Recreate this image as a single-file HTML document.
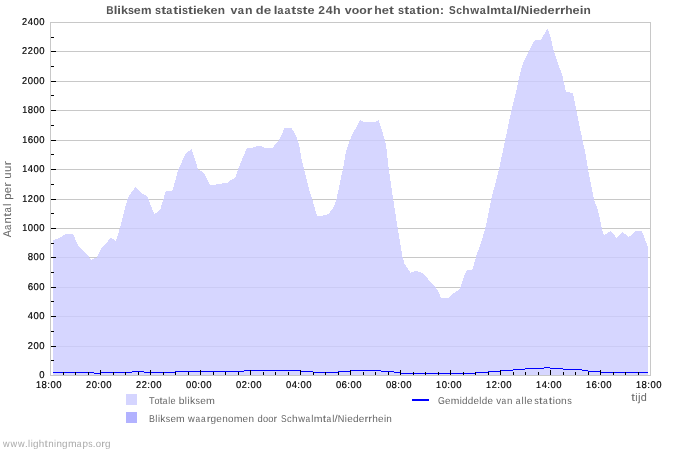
<!DOCTYPE html><html><head><meta charset="utf-8"><style>html,body{margin:0;padding:0;background:#fff;width:700px;height:450px;overflow:hidden}svg{display:block;will-change:transform}text{font-family:"Liberation Sans", sans-serif;text-rendering:geometricPrecision}</style></head><body>
<svg width="700" height="450" viewBox="0 0 700 450">
<path d="M50 22.5H651M50 51.5H651M50 81.5H651M50 110.5H651M50 140.5H651M50 169.5H651M50 199.5H651M50 228.5H651M50 257.5H651M50 287.5H651M50 316.5H651M50 346.5H651M50 375.5H651M50.5 22V376M650.5 22V376" stroke="#c8c8c8" stroke-width="1" fill="none" shape-rendering="crispEdges"/>
<path d="M53 375 L53 240.5 L57.8 238.5 L66.3 234 L72.9 234 L78.8 246.7 L81.1 248.6 L88.1 255.6 L91.2 259.9 L93.5 258.7 L96.7 257.5 L102.1 247.1 L106.4 242.9 L110.7 237.9 L115.7 240.7 L117.1 237.9 L120.7 225 L127.7 198 L129.7 194.7 L135.3 187.1 L142.3 193.7 L147.7 196.7 L150.3 204 L154.4 214.3 L160.3 209.3 L165.7 191.3 L167 190.7 L172.3 190.7 L173.7 186.7 L178 170 L180.7 164.7 L184 156.7 L186.7 152.7 L191.6 149.3 L194 156 L198 169.3 L201.3 171.3 L204.7 174.7 L210 184.7 L215.3 184.7 L217.3 184 L222 184 L222.7 183 L228 183 L230 180.7 L235.3 178 L239.3 166 L242.7 158 L246.7 148.4 L252.7 148 L254 146.7 L258 146.3 L260 145.3 L264.7 148 L272.7 148 L275.3 144.4 L278.7 140.7 L284.7 128 L291.3 128 L294.7 133.3 L298 140.7 L299.3 146 L301.3 158 L305 173.3 L309.2 190 L312.5 200 L315.8 211.7 L317 215.8 L321.7 215.8 L328.3 214.2 L333.3 207.5 L335.8 201.7 L339.2 186.7 L343.3 166.7 L346 151.7 L348.7 143 L352 135 L356 127.7 L360 120.3 L364 121.7 L375.3 121.7 L378.7 120.3 L380.7 126.3 L383.3 135 L386 145 L387.3 155.7 L388.9 170 L393.3 200 L397.8 228.9 L402.3 256 L404.3 263.3 L407.7 268.7 L410.3 272.7 L416.3 270.8 L422.3 273.1 L427.7 278.7 L433.7 285.3 L437.7 290 L441 298 L448.3 298 L452.3 294 L459.7 289.3 L461.7 283.3 L465.5 272.5 L466.5 270.5 L472 270 L473.5 266 L476.5 255 L480.8 243.3 L485 229.2 L487.5 218.3 L491.3 198.9 L499.1 168.9 L504.7 142.2 L511.5 110 L516 92 L519 78 L522 66 L525 59 L529.5 50 L534.5 40.5 L541 40 L547 29 L548 29.5 L551 39 L554 52 L558.5 65 L562 74 L566 92 L573 93 L576 108 L579.3 124.9 L582.4 139.7 L585.6 154.4 L587.9 168.4 L594 200 L598 210 L600.7 223.3 L603.3 234 L604.7 235 L610.7 231 L616.7 238 L622.7 232 L628.7 237 L636 231 L641.3 230.7 L643.3 234 L646 242 L648 247.3 L648 375Z" fill="rgb(204,204,255)" fill-opacity="0.8" shape-rendering="crispEdges"/>
<path d="M53 372.5H94M94 373.5H100M100 372.5H132M132 371.5H144M144 372.5H175M175 371.5H244M244 370.5H300M300 371.5H313M313 372.5H338M338 371.5H350M350 370.5H381M381 371.5H394M394 372.5H400M400 373.5H475M475 372.5H488M488 371.5H500M500 370.5H513M513 369.5H525M525 368.5H544M544 367.5H550M550 368.5H563M563 369.5H582M582 370.5H588M588 371.5H600M600 372.5H648" stroke="#0000ff" stroke-width="1" fill="none" shape-rendering="crispEdges"/>
<path d="M51 51.5H56M51 81.5H56M51 110.5H56M51 140.5H56M51 169.5H56M51 199.5H56M51 228.5H56M51 257.5H56M51 287.5H56M51 316.5H56M51 346.5H56M51 37.5H54M51 66.5H54M51 95.5H54M51 125.5H54M51 154.5H54M51 184.5H54M51 213.5H54M51 243.5H54M51 272.5H54M51 301.5H54M51 331.5H54M51 360.5H54M63.5 372V375M75.5 372V375M88.5 372V375M100.5 370V375M113.5 372V375M125.5 372V375M138.5 372V375M150.5 370V375M163.5 372V375M175.5 372V375M188.5 372V375M200.5 370V375M213.5 372V375M225.5 372V375M238.5 372V375M250.5 370V375M263.5 372V375M275.5 372V375M288.5 372V375M300.5 370V375M313.5 372V375M325.5 372V375M338.5 372V375M350.5 370V375M363.5 372V375M375.5 372V375M388.5 372V375M400.5 370V375M413.5 372V375M425.5 372V375M438.5 372V375M450.5 370V375M463.5 372V375M475.5 372V375M488.5 372V375M500.5 370V375M513.5 372V375M525.5 372V375M538.5 372V375M550.5 370V375M563.5 372V375M575.5 372V375M588.5 372V375M600.5 370V375M613.5 372V375M625.5 372V375M638.5 372V375" stroke="#000" stroke-width="1" fill="none" shape-rendering="crispEdges"/>
<g font-size="9.9" fill="#000" stroke="#000" stroke-width="0.18">
<text x="22.1" y="25" textLength="5.09" lengthAdjust="spacingAndGlyphs">2</text>
<text x="27.84" y="25" textLength="5.28" lengthAdjust="spacingAndGlyphs">4</text>
<text x="33.57" y="25" textLength="5.28" lengthAdjust="spacingAndGlyphs">0</text>
<text x="39.3" y="25" textLength="5.28" lengthAdjust="spacingAndGlyphs">0</text>
<text x="22.1" y="54" textLength="5.09" lengthAdjust="spacingAndGlyphs">2</text>
<text x="27.82" y="54" textLength="5.09" lengthAdjust="spacingAndGlyphs">2</text>
<text x="33.57" y="54" textLength="5.28" lengthAdjust="spacingAndGlyphs">0</text>
<text x="39.3" y="54" textLength="5.28" lengthAdjust="spacingAndGlyphs">0</text>
<text x="22.1" y="84" textLength="5.09" lengthAdjust="spacingAndGlyphs">2</text>
<text x="27.84" y="84" textLength="5.28" lengthAdjust="spacingAndGlyphs">0</text>
<text x="33.57" y="84" textLength="5.28" lengthAdjust="spacingAndGlyphs">0</text>
<text x="39.3" y="84" textLength="5.28" lengthAdjust="spacingAndGlyphs">0</text>
<text x="22.19" y="113" textLength="5.04" lengthAdjust="spacingAndGlyphs">1</text>
<text x="27.82" y="113" textLength="5.33" lengthAdjust="spacingAndGlyphs">8</text>
<text x="33.57" y="113" textLength="5.28" lengthAdjust="spacingAndGlyphs">0</text>
<text x="39.3" y="113" textLength="5.28" lengthAdjust="spacingAndGlyphs">0</text>
<text x="22.19" y="143" textLength="5.04" lengthAdjust="spacingAndGlyphs">1</text>
<text x="27.75" y="143" textLength="5.46" lengthAdjust="spacingAndGlyphs">6</text>
<text x="33.57" y="143" textLength="5.28" lengthAdjust="spacingAndGlyphs">0</text>
<text x="39.3" y="143" textLength="5.28" lengthAdjust="spacingAndGlyphs">0</text>
<text x="22.19" y="172" textLength="5.04" lengthAdjust="spacingAndGlyphs">1</text>
<text x="27.84" y="172" textLength="5.28" lengthAdjust="spacingAndGlyphs">4</text>
<text x="33.57" y="172" textLength="5.28" lengthAdjust="spacingAndGlyphs">0</text>
<text x="39.3" y="172" textLength="5.28" lengthAdjust="spacingAndGlyphs">0</text>
<text x="22.19" y="202" textLength="5.04" lengthAdjust="spacingAndGlyphs">1</text>
<text x="27.82" y="202" textLength="5.09" lengthAdjust="spacingAndGlyphs">2</text>
<text x="33.57" y="202" textLength="5.28" lengthAdjust="spacingAndGlyphs">0</text>
<text x="39.3" y="202" textLength="5.28" lengthAdjust="spacingAndGlyphs">0</text>
<text x="22.19" y="231" textLength="5.04" lengthAdjust="spacingAndGlyphs">1</text>
<text x="27.84" y="231" textLength="5.28" lengthAdjust="spacingAndGlyphs">0</text>
<text x="33.57" y="231" textLength="5.28" lengthAdjust="spacingAndGlyphs">0</text>
<text x="39.3" y="231" textLength="5.28" lengthAdjust="spacingAndGlyphs">0</text>
<text x="27.82" y="260" textLength="5.33" lengthAdjust="spacingAndGlyphs">8</text>
<text x="33.57" y="260" textLength="5.28" lengthAdjust="spacingAndGlyphs">0</text>
<text x="39.3" y="260" textLength="5.28" lengthAdjust="spacingAndGlyphs">0</text>
<text x="27.75" y="290" textLength="5.46" lengthAdjust="spacingAndGlyphs">6</text>
<text x="33.57" y="290" textLength="5.28" lengthAdjust="spacingAndGlyphs">0</text>
<text x="39.3" y="290" textLength="5.28" lengthAdjust="spacingAndGlyphs">0</text>
<text x="27.84" y="319" textLength="5.28" lengthAdjust="spacingAndGlyphs">4</text>
<text x="33.57" y="319" textLength="5.28" lengthAdjust="spacingAndGlyphs">0</text>
<text x="39.3" y="319" textLength="5.28" lengthAdjust="spacingAndGlyphs">0</text>
<text x="27.82" y="349" textLength="5.09" lengthAdjust="spacingAndGlyphs">2</text>
<text x="33.57" y="349" textLength="5.28" lengthAdjust="spacingAndGlyphs">0</text>
<text x="39.3" y="349" textLength="5.28" lengthAdjust="spacingAndGlyphs">0</text>
<text x="39.3" y="378" textLength="5.28" lengthAdjust="spacingAndGlyphs">0</text>
<text x="36" y="388" textLength="5.04" lengthAdjust="spacingAndGlyphs">1</text>
<text x="41.62" y="388" textLength="5.33" lengthAdjust="spacingAndGlyphs">8</text>
<text x="47.32" y="388" textLength="2.71" lengthAdjust="spacingAndGlyphs">:</text>
<text x="50.41" y="388" textLength="5.28" lengthAdjust="spacingAndGlyphs">0</text>
<text x="56.13" y="388" textLength="5.28" lengthAdjust="spacingAndGlyphs">0</text>
<text x="85.9" y="388" textLength="5.09" lengthAdjust="spacingAndGlyphs">2</text>
<text x="91.65" y="388" textLength="5.28" lengthAdjust="spacingAndGlyphs">0</text>
<text x="97.32" y="388" textLength="2.71" lengthAdjust="spacingAndGlyphs">:</text>
<text x="100.41" y="388" textLength="5.28" lengthAdjust="spacingAndGlyphs">0</text>
<text x="106.13" y="388" textLength="5.28" lengthAdjust="spacingAndGlyphs">0</text>
<text x="135.9" y="388" textLength="5.09" lengthAdjust="spacingAndGlyphs">2</text>
<text x="141.63" y="388" textLength="5.09" lengthAdjust="spacingAndGlyphs">2</text>
<text x="147.32" y="388" textLength="2.71" lengthAdjust="spacingAndGlyphs">:</text>
<text x="150.41" y="388" textLength="5.28" lengthAdjust="spacingAndGlyphs">0</text>
<text x="156.13" y="388" textLength="5.28" lengthAdjust="spacingAndGlyphs">0</text>
<text x="185.92" y="388" textLength="5.28" lengthAdjust="spacingAndGlyphs">0</text>
<text x="191.65" y="388" textLength="5.28" lengthAdjust="spacingAndGlyphs">0</text>
<text x="197.32" y="388" textLength="2.71" lengthAdjust="spacingAndGlyphs">:</text>
<text x="200.41" y="388" textLength="5.28" lengthAdjust="spacingAndGlyphs">0</text>
<text x="206.13" y="388" textLength="5.28" lengthAdjust="spacingAndGlyphs">0</text>
<text x="235.92" y="388" textLength="5.28" lengthAdjust="spacingAndGlyphs">0</text>
<text x="241.63" y="388" textLength="5.09" lengthAdjust="spacingAndGlyphs">2</text>
<text x="247.32" y="388" textLength="2.71" lengthAdjust="spacingAndGlyphs">:</text>
<text x="250.41" y="388" textLength="5.28" lengthAdjust="spacingAndGlyphs">0</text>
<text x="256.13" y="388" textLength="5.28" lengthAdjust="spacingAndGlyphs">0</text>
<text x="285.92" y="388" textLength="5.28" lengthAdjust="spacingAndGlyphs">0</text>
<text x="291.65" y="388" textLength="5.28" lengthAdjust="spacingAndGlyphs">4</text>
<text x="297.32" y="388" textLength="2.71" lengthAdjust="spacingAndGlyphs">:</text>
<text x="300.41" y="388" textLength="5.28" lengthAdjust="spacingAndGlyphs">0</text>
<text x="306.13" y="388" textLength="5.28" lengthAdjust="spacingAndGlyphs">0</text>
<text x="335.92" y="388" textLength="5.28" lengthAdjust="spacingAndGlyphs">0</text>
<text x="341.56" y="388" textLength="5.46" lengthAdjust="spacingAndGlyphs">6</text>
<text x="347.32" y="388" textLength="2.71" lengthAdjust="spacingAndGlyphs">:</text>
<text x="350.41" y="388" textLength="5.28" lengthAdjust="spacingAndGlyphs">0</text>
<text x="356.13" y="388" textLength="5.28" lengthAdjust="spacingAndGlyphs">0</text>
<text x="385.92" y="388" textLength="5.28" lengthAdjust="spacingAndGlyphs">0</text>
<text x="391.62" y="388" textLength="5.33" lengthAdjust="spacingAndGlyphs">8</text>
<text x="397.32" y="388" textLength="2.71" lengthAdjust="spacingAndGlyphs">:</text>
<text x="400.41" y="388" textLength="5.28" lengthAdjust="spacingAndGlyphs">0</text>
<text x="406.13" y="388" textLength="5.28" lengthAdjust="spacingAndGlyphs">0</text>
<text x="436" y="388" textLength="5.04" lengthAdjust="spacingAndGlyphs">1</text>
<text x="441.65" y="388" textLength="5.28" lengthAdjust="spacingAndGlyphs">0</text>
<text x="447.32" y="388" textLength="2.71" lengthAdjust="spacingAndGlyphs">:</text>
<text x="450.41" y="388" textLength="5.28" lengthAdjust="spacingAndGlyphs">0</text>
<text x="456.13" y="388" textLength="5.28" lengthAdjust="spacingAndGlyphs">0</text>
<text x="486" y="388" textLength="5.04" lengthAdjust="spacingAndGlyphs">1</text>
<text x="491.63" y="388" textLength="5.09" lengthAdjust="spacingAndGlyphs">2</text>
<text x="497.32" y="388" textLength="2.71" lengthAdjust="spacingAndGlyphs">:</text>
<text x="500.41" y="388" textLength="5.28" lengthAdjust="spacingAndGlyphs">0</text>
<text x="506.13" y="388" textLength="5.28" lengthAdjust="spacingAndGlyphs">0</text>
<text x="536" y="388" textLength="5.04" lengthAdjust="spacingAndGlyphs">1</text>
<text x="541.65" y="388" textLength="5.28" lengthAdjust="spacingAndGlyphs">4</text>
<text x="547.32" y="388" textLength="2.71" lengthAdjust="spacingAndGlyphs">:</text>
<text x="550.41" y="388" textLength="5.28" lengthAdjust="spacingAndGlyphs">0</text>
<text x="556.13" y="388" textLength="5.28" lengthAdjust="spacingAndGlyphs">0</text>
<text x="586" y="388" textLength="5.04" lengthAdjust="spacingAndGlyphs">1</text>
<text x="591.56" y="388" textLength="5.46" lengthAdjust="spacingAndGlyphs">6</text>
<text x="597.32" y="388" textLength="2.71" lengthAdjust="spacingAndGlyphs">:</text>
<text x="600.41" y="388" textLength="5.28" lengthAdjust="spacingAndGlyphs">0</text>
<text x="606.13" y="388" textLength="5.28" lengthAdjust="spacingAndGlyphs">0</text>
<text x="636" y="388" textLength="5.04" lengthAdjust="spacingAndGlyphs">1</text>
<text x="641.62" y="388" textLength="5.33" lengthAdjust="spacingAndGlyphs">8</text>
<text x="647.32" y="388" textLength="2.71" lengthAdjust="spacingAndGlyphs">:</text>
<text x="650.41" y="388" textLength="5.28" lengthAdjust="spacingAndGlyphs">0</text>
<text x="656.13" y="388" textLength="5.28" lengthAdjust="spacingAndGlyphs">0</text>
</g>
<g font-size="11.4" font-weight="bold" fill="#555" style="text-rendering:geometricPrecision">
<text x="106.32" y="13.9" textLength="7.31" lengthAdjust="spacingAndGlyphs">B</text>
<text x="113.85" y="13.9" textLength="3.64" lengthAdjust="spacingAndGlyphs">l</text>
<text x="117.37" y="13.9" textLength="3.64" lengthAdjust="spacingAndGlyphs">i</text>
<text x="120.93" y="13.9" textLength="7.05" lengthAdjust="spacingAndGlyphs">k</text>
<text x="127.95" y="13.9" textLength="5.91" lengthAdjust="spacingAndGlyphs">s</text>
<text x="133.87" y="13.9" textLength="6.95" lengthAdjust="spacingAndGlyphs">e</text>
<text x="140.96" y="13.9" textLength="10.57" lengthAdjust="spacingAndGlyphs">m</text>
<text x="155.12" y="13.9" textLength="6" lengthAdjust="spacingAndGlyphs">s</text>
<text x="161.15" y="13.9" textLength="4.94" lengthAdjust="spacingAndGlyphs">t</text>
<text x="166.3" y="13.9" textLength="6.03" lengthAdjust="spacingAndGlyphs">a</text>
<text x="173.19" y="13.9" textLength="4.94" lengthAdjust="spacingAndGlyphs">t</text>
<text x="178.15" y="13.9" textLength="3.7" lengthAdjust="spacingAndGlyphs">i</text>
<text x="181.95" y="13.9" textLength="6" lengthAdjust="spacingAndGlyphs">s</text>
<text x="187.98" y="13.9" textLength="4.94" lengthAdjust="spacingAndGlyphs">t</text>
<text x="192.94" y="13.9" textLength="3.7" lengthAdjust="spacingAndGlyphs">i</text>
<text x="196.52" y="13.9" textLength="7.06" lengthAdjust="spacingAndGlyphs">e</text>
<text x="203.63" y="13.9" textLength="7.15" lengthAdjust="spacingAndGlyphs">k</text>
<text x="210.55" y="13.9" textLength="7.06" lengthAdjust="spacingAndGlyphs">e</text>
<text x="217.77" y="13.9" textLength="7.26" lengthAdjust="spacingAndGlyphs">n</text>
<text x="230.55" y="13.9" textLength="6.85" lengthAdjust="spacingAndGlyphs">v</text>
<text x="237.64" y="13.9" textLength="6.26" lengthAdjust="spacingAndGlyphs">a</text>
<text x="244.92" y="13.9" textLength="7.54" lengthAdjust="spacingAndGlyphs">n</text>
<text x="255.77" y="13.9" textLength="7.88" lengthAdjust="spacingAndGlyphs">d</text>
<text x="263.68" y="13.9" textLength="7.48" lengthAdjust="spacingAndGlyphs">e</text>
<text x="273.67" y="13.9" textLength="3.69" lengthAdjust="spacingAndGlyphs">l</text>
<text x="277.43" y="13.9" textLength="6.01" lengthAdjust="spacingAndGlyphs">a</text>
<text x="284.46" y="13.9" textLength="6.01" lengthAdjust="spacingAndGlyphs">a</text>
<text x="291.34" y="13.9" textLength="4.94" lengthAdjust="spacingAndGlyphs">t</text>
<text x="296.51" y="13.9" textLength="5.99" lengthAdjust="spacingAndGlyphs">s</text>
<text x="302.52" y="13.9" textLength="4.94" lengthAdjust="spacingAndGlyphs">t</text>
<text x="307.49" y="13.9" textLength="7.05" lengthAdjust="spacingAndGlyphs">e</text>
<text x="318.18" y="13.9" textLength="6.7" lengthAdjust="spacingAndGlyphs">2</text>
<text x="325.65" y="13.9" textLength="6.87" lengthAdjust="spacingAndGlyphs">4</text>
<text x="333.01" y="13.9" textLength="7.67" lengthAdjust="spacingAndGlyphs">h</text>
<text x="344.75" y="13.9" textLength="6.89" lengthAdjust="spacingAndGlyphs">v</text>
<text x="351.74" y="13.9" textLength="7.52" lengthAdjust="spacingAndGlyphs">o</text>
<text x="359.24" y="13.9" textLength="7.52" lengthAdjust="spacingAndGlyphs">o</text>
<text x="366.72" y="13.9" textLength="5.6" lengthAdjust="spacingAndGlyphs">r</text>
<text x="374.24" y="13.9" textLength="7.48" lengthAdjust="spacingAndGlyphs">h</text>
<text x="381.75" y="13.9" textLength="7.22" lengthAdjust="spacingAndGlyphs">e</text>
<text x="389.07" y="13.9" textLength="4.94" lengthAdjust="spacingAndGlyphs">t</text>
<text x="398.12" y="13.9" textLength="6.06" lengthAdjust="spacingAndGlyphs">s</text>
<text x="404.23" y="13.9" textLength="4.94" lengthAdjust="spacingAndGlyphs">t</text>
<text x="409.4" y="13.9" textLength="6.08" lengthAdjust="spacingAndGlyphs">a</text>
<text x="416.37" y="13.9" textLength="4.94" lengthAdjust="spacingAndGlyphs">t</text>
<text x="421.36" y="13.9" textLength="3.73" lengthAdjust="spacingAndGlyphs">i</text>
<text x="425.01" y="13.9" textLength="7.26" lengthAdjust="spacingAndGlyphs">o</text>
<text x="432.36" y="13.9" textLength="7.33" lengthAdjust="spacingAndGlyphs">n</text>
<text x="439.67" y="13.9" textLength="4.4" lengthAdjust="spacingAndGlyphs">:</text>
<text x="449.01" y="13.9" textLength="6.72" lengthAdjust="spacingAndGlyphs">S</text>
<text x="456.15" y="13.9" textLength="5.78" lengthAdjust="spacingAndGlyphs">c</text>
<text x="462.37" y="13.9" textLength="7.36" lengthAdjust="spacingAndGlyphs">h</text>
<text x="470.21" y="13.9">w</text>
<text x="479.63" y="13.9" textLength="6.06" lengthAdjust="spacingAndGlyphs">a</text>
<text x="486.53" y="13.9" textLength="3.72" lengthAdjust="spacingAndGlyphs">l</text>
<text x="490.26" y="13.9" textLength="10.79" lengthAdjust="spacingAndGlyphs">m</text>
<text x="501.11" y="13.9" textLength="4.94" lengthAdjust="spacingAndGlyphs">t</text>
<text x="506.27" y="13.9" textLength="6.06" lengthAdjust="spacingAndGlyphs">a</text>
<text x="513.17" y="13.9" textLength="3.72" lengthAdjust="spacingAndGlyphs">l</text>
<text x="516.68" y="13.9" textLength="4.12" lengthAdjust="spacingAndGlyphs">/</text>
<text x="520.84" y="13.9" textLength="8.43" lengthAdjust="spacingAndGlyphs">N</text>
<text x="529.39" y="13.9" textLength="3.72" lengthAdjust="spacingAndGlyphs">i</text>
<text x="533" y="13.9" textLength="7.1" lengthAdjust="spacingAndGlyphs">e</text>
<text x="540.13" y="13.9" textLength="7.47" lengthAdjust="spacingAndGlyphs">d</text>
<text x="547.63" y="13.9" textLength="7.1" lengthAdjust="spacingAndGlyphs">e</text>
<text x="554.77" y="13.9" textLength="5.39" lengthAdjust="spacingAndGlyphs">r</text>
<text x="559.95" y="13.9" textLength="5.39" lengthAdjust="spacingAndGlyphs">r</text>
<text x="565.19" y="13.9" textLength="7.36" lengthAdjust="spacingAndGlyphs">h</text>
<text x="572.58" y="13.9" textLength="7.1" lengthAdjust="spacingAndGlyphs">e</text>
<text x="579.7" y="13.9" textLength="3.72" lengthAdjust="spacingAndGlyphs">i</text>
<text x="583.44" y="13.9" textLength="7.3" lengthAdjust="spacingAndGlyphs">n</text>
</g>
<g font-size="11.2" fill="#666">
<text x="631.2" y="400.7" textLength="3.73" lengthAdjust="spacingAndGlyphs">t</text>
<text x="635.33" y="400.7" textLength="2.28" lengthAdjust="spacingAndGlyphs">i</text>
<text x="637.95" y="400.7" textLength="2.52" lengthAdjust="spacingAndGlyphs">j</text>
<text x="640.74" y="400.7" textLength="6.07" lengthAdjust="spacingAndGlyphs">d</text>
<g transform="translate(11 237.3) rotate(-90)">
<text x="-0.04" y="0" textLength="7.12" lengthAdjust="spacingAndGlyphs">A</text>
<text x="7.38" y="0" textLength="5.3" lengthAdjust="spacingAndGlyphs">a</text>
<text x="13.85" y="0" textLength="6.36" lengthAdjust="spacingAndGlyphs">n</text>
<text x="20.44" y="0" textLength="3.94" lengthAdjust="spacingAndGlyphs">t</text>
<text x="24.75" y="0" textLength="5.3" lengthAdjust="spacingAndGlyphs">a</text>
<text x="31.29" y="0" textLength="2.41" lengthAdjust="spacingAndGlyphs">l</text>
<text x="37.55" y="0" textLength="6.41" lengthAdjust="spacingAndGlyphs">p</text>
<text x="44.16" y="0" textLength="6.37" lengthAdjust="spacingAndGlyphs">e</text>
<text x="50.64" y="0" textLength="4.52" lengthAdjust="spacingAndGlyphs">r</text>
<text x="58.47" y="0" textLength="6.36" lengthAdjust="spacingAndGlyphs">u</text>
<text x="65.19" y="0" textLength="6.36" lengthAdjust="spacingAndGlyphs">u</text>
<text x="71.81" y="0" textLength="4.52" lengthAdjust="spacingAndGlyphs">r</text>
</g></g>
<rect x="126" y="394" width="11" height="11" fill="#d5d5ff"/>
<rect x="126" y="412" width="11" height="11" fill="#b2b2ff"/>
<rect x="412" y="399" width="17" height="2" fill="#0000ff"/>
<g font-size="9.9" fill="#666">
<text x="148.89" y="404.1" textLength="5.64" lengthAdjust="spacingAndGlyphs">T</text>
<text x="154.39" y="404.1" textLength="5.01" lengthAdjust="spacingAndGlyphs">o</text>
<text x="159.53" y="404.1" textLength="3.14" lengthAdjust="spacingAndGlyphs">t</text>
<text x="162.74" y="404.1" textLength="4.68" lengthAdjust="spacingAndGlyphs">a</text>
<text x="168.2" y="404.1" textLength="1.92" lengthAdjust="spacingAndGlyphs">l</text>
<text x="170.42" y="404.1" textLength="5.09" lengthAdjust="spacingAndGlyphs">e</text>
<text x="178.84" y="404.1" textLength="5.67" lengthAdjust="spacingAndGlyphs">b</text>
<text x="184.83" y="404.1" textLength="2.13" lengthAdjust="spacingAndGlyphs">l</text>
<text x="187.44" y="404.1" textLength="2.13" lengthAdjust="spacingAndGlyphs">i</text>
<text x="189.95" y="404.1" textLength="5.24" lengthAdjust="spacingAndGlyphs">k</text>
<text x="195.48" y="404.1" textLength="4.49" lengthAdjust="spacingAndGlyphs">s</text>
<text x="200.19" y="404.1" textLength="5.63" lengthAdjust="spacingAndGlyphs">e</text>
<text x="206.01" y="404.1" textLength="8.89" lengthAdjust="spacingAndGlyphs">m</text>
<text x="148.97" y="422" textLength="5.95" lengthAdjust="spacingAndGlyphs">B</text>
<text x="155.33" y="422" textLength="2.08" lengthAdjust="spacingAndGlyphs">l</text>
<text x="157.88" y="422" textLength="2.08" lengthAdjust="spacingAndGlyphs">i</text>
<text x="160.34" y="422" textLength="5.13" lengthAdjust="spacingAndGlyphs">k</text>
<text x="165.76" y="422" textLength="4.4" lengthAdjust="spacingAndGlyphs">s</text>
<text x="170.38" y="422">e</text>
<text x="176.08" y="422" textLength="8.71" lengthAdjust="spacingAndGlyphs">m</text>
<text x="188.11" y="422" textLength="6.75" lengthAdjust="spacingAndGlyphs">w</text>
<text x="195.45" y="422" textLength="4.68" lengthAdjust="spacingAndGlyphs">a</text>
<text x="201.12" y="422" textLength="4.68" lengthAdjust="spacingAndGlyphs">a</text>
<text x="206.67" y="422" textLength="3.95" lengthAdjust="spacingAndGlyphs">r</text>
<text x="210.51" y="422" textLength="5.59" lengthAdjust="spacingAndGlyphs">g</text>
<text x="216.38" y="422" textLength="5.56" lengthAdjust="spacingAndGlyphs">e</text>
<text x="222.17" y="422" textLength="5.55" lengthAdjust="spacingAndGlyphs">n</text>
<text x="227.95" y="422" textLength="5.47" lengthAdjust="spacingAndGlyphs">o</text>
<text x="233.66" y="422" textLength="8.78" lengthAdjust="spacingAndGlyphs">m</text>
<text x="242.61" y="422" textLength="5.56" lengthAdjust="spacingAndGlyphs">e</text>
<text x="248.4" y="422" textLength="5.55" lengthAdjust="spacingAndGlyphs">n</text>
<text x="257.5" y="422" textLength="5.24" lengthAdjust="spacingAndGlyphs">d</text>
<text x="263.02" y="422" textLength="5.13" lengthAdjust="spacingAndGlyphs">o</text>
<text x="268.32" y="422" textLength="5.13" lengthAdjust="spacingAndGlyphs">o</text>
<text x="273.58" y="422" textLength="3.7" lengthAdjust="spacingAndGlyphs">r</text>
<text x="281.07" y="422" textLength="5.61" lengthAdjust="spacingAndGlyphs">S</text>
<text x="286.89" y="422" textLength="4.65" lengthAdjust="spacingAndGlyphs">c</text>
<text x="292.01" y="422" textLength="5.6" lengthAdjust="spacingAndGlyphs">h</text>
<text x="298.15" y="422" textLength="6.77" lengthAdjust="spacingAndGlyphs">w</text>
<text x="305.51" y="422" textLength="4.68" lengthAdjust="spacingAndGlyphs">a</text>
<text x="311.24" y="422" textLength="2.11" lengthAdjust="spacingAndGlyphs">l</text>
<text x="313.73" y="422" textLength="8.8" lengthAdjust="spacingAndGlyphs">m</text>
<text x="322.68" y="422" textLength="3.44" lengthAdjust="spacingAndGlyphs">t</text>
<text x="326.43" y="422" textLength="4.68" lengthAdjust="spacingAndGlyphs">a</text>
<text x="332.17" y="422" textLength="2.11" lengthAdjust="spacingAndGlyphs">l</text>
<text x="334.51" y="422" textLength="3.12" lengthAdjust="spacingAndGlyphs">/</text>
<text x="337.79" y="422" textLength="6.61" lengthAdjust="spacingAndGlyphs">N</text>
<text x="344.81" y="422" textLength="2.11" lengthAdjust="spacingAndGlyphs">i</text>
<text x="347.23" y="422" textLength="5.57" lengthAdjust="spacingAndGlyphs">e</text>
<text x="352.93" y="422" textLength="5.6" lengthAdjust="spacingAndGlyphs">d</text>
<text x="358.82" y="422" textLength="5.57" lengthAdjust="spacingAndGlyphs">e</text>
<text x="364.49" y="422" textLength="3.96" lengthAdjust="spacingAndGlyphs">r</text>
<text x="368.3" y="422" textLength="3.96" lengthAdjust="spacingAndGlyphs">r</text>
<text x="372.2" y="422" textLength="5.6" lengthAdjust="spacingAndGlyphs">h</text>
<text x="378.02" y="422" textLength="5.57" lengthAdjust="spacingAndGlyphs">e</text>
<text x="383.88" y="422" textLength="2.11" lengthAdjust="spacingAndGlyphs">i</text>
<text x="386.39" y="422" textLength="5.56" lengthAdjust="spacingAndGlyphs">n</text>
<text x="438.05" y="403.8" textLength="6.89" lengthAdjust="spacingAndGlyphs">G</text>
<text x="445.11" y="403.8" textLength="5.46" lengthAdjust="spacingAndGlyphs">e</text>
<text x="450.75" y="403.8" textLength="8.62" lengthAdjust="spacingAndGlyphs">m</text>
<text x="459.7" y="403.8" textLength="2.06" lengthAdjust="spacingAndGlyphs">i</text>
<text x="462.07" y="403.8">d</text>
<text x="467.84" y="403.8">d</text>
<text x="473.6" y="403.8" textLength="5.46" lengthAdjust="spacingAndGlyphs">e</text>
<text x="479.34" y="403.8" textLength="2.06" lengthAdjust="spacingAndGlyphs">l</text>
<text x="481.72" y="403.8">d</text>
<text x="487.48" y="403.8" textLength="5.46" lengthAdjust="spacingAndGlyphs">e</text>
<text x="496.17" y="403.8" textLength="4.88" lengthAdjust="spacingAndGlyphs">v</text>
<text x="501.4" y="403.8" textLength="4.68" lengthAdjust="spacingAndGlyphs">a</text>
<text x="507.01" y="403.8" textLength="5.43" lengthAdjust="spacingAndGlyphs">n</text>
<text x="515.63" y="403.8" textLength="4.85" lengthAdjust="spacingAndGlyphs">a</text>
<text x="521.61" y="403.8">l</text>
<text x="524.3" y="403.8">l</text>
<text x="526.84" y="403.8" textLength="5.83" lengthAdjust="spacingAndGlyphs">e</text>
<text x="534.34" y="403.8" textLength="4.58" lengthAdjust="spacingAndGlyphs">s</text>
<text x="539.13" y="403.8" textLength="3.55" lengthAdjust="spacingAndGlyphs">t</text>
<text x="543.02" y="403.8" textLength="4.78" lengthAdjust="spacingAndGlyphs">a</text>
<text x="548.73" y="403.8" textLength="3.55" lengthAdjust="spacingAndGlyphs">t</text>
<text x="552.67" y="403.8" textLength="2.17" lengthAdjust="spacingAndGlyphs">i</text>
<text x="555.18" y="403.8" textLength="5.65" lengthAdjust="spacingAndGlyphs">o</text>
<text x="561.11" y="403.8" textLength="5.73" lengthAdjust="spacingAndGlyphs">n</text>
<text x="567.25" y="403.8" textLength="4.58" lengthAdjust="spacingAndGlyphs">s</text>
</g>
<g font-size="10" fill="#aaa">
<text x="3.1" y="447.2" textLength="6.63" lengthAdjust="spacingAndGlyphs">w</text>
<text x="10.53" y="447.2" textLength="6.63" lengthAdjust="spacingAndGlyphs">w</text>
<text x="17.96" y="447.2" textLength="6.63" lengthAdjust="spacingAndGlyphs">w</text>
<text x="25.06" y="447.2" textLength="2.73" lengthAdjust="spacingAndGlyphs">.</text>
<text x="28.11" y="447.2" textLength="2.06" lengthAdjust="spacingAndGlyphs">l</text>
<text x="30.63" y="447.2" textLength="2.06" lengthAdjust="spacingAndGlyphs">i</text>
<text x="33.01" y="447.2" textLength="5.49" lengthAdjust="spacingAndGlyphs">g</text>
<text x="38.83" y="447.2" textLength="5.48" lengthAdjust="spacingAndGlyphs">h</text>
<text x="44.5" y="447.2" textLength="3.37" lengthAdjust="spacingAndGlyphs">t</text>
<text x="48.17" y="447.2" textLength="5.44" lengthAdjust="spacingAndGlyphs">n</text>
<text x="53.99" y="447.2" textLength="2.06" lengthAdjust="spacingAndGlyphs">i</text>
<text x="56.45" y="447.2" textLength="5.44" lengthAdjust="spacingAndGlyphs">n</text>
<text x="62.12" y="447.2" textLength="5.49" lengthAdjust="spacingAndGlyphs">g</text>
<text x="67.93" y="447.2" textLength="8.62" lengthAdjust="spacingAndGlyphs">m</text>
<text x="76.74" y="447.2" textLength="4.73" lengthAdjust="spacingAndGlyphs">a</text>
<text x="82.39" y="447.2" textLength="5.49" lengthAdjust="spacingAndGlyphs">p</text>
<text x="88.22" y="447.2" textLength="4.35" lengthAdjust="spacingAndGlyphs">s</text>
<text x="92.77" y="447.2" textLength="2.73" lengthAdjust="spacingAndGlyphs">.</text>
<text x="95.68" y="447.2" textLength="5.37" lengthAdjust="spacingAndGlyphs">o</text>
<text x="101.19" y="447.2" textLength="3.87" lengthAdjust="spacingAndGlyphs">r</text>
<text x="104.96" y="447.2" textLength="5.49" lengthAdjust="spacingAndGlyphs">g</text>
</g>
</svg></body></html>
